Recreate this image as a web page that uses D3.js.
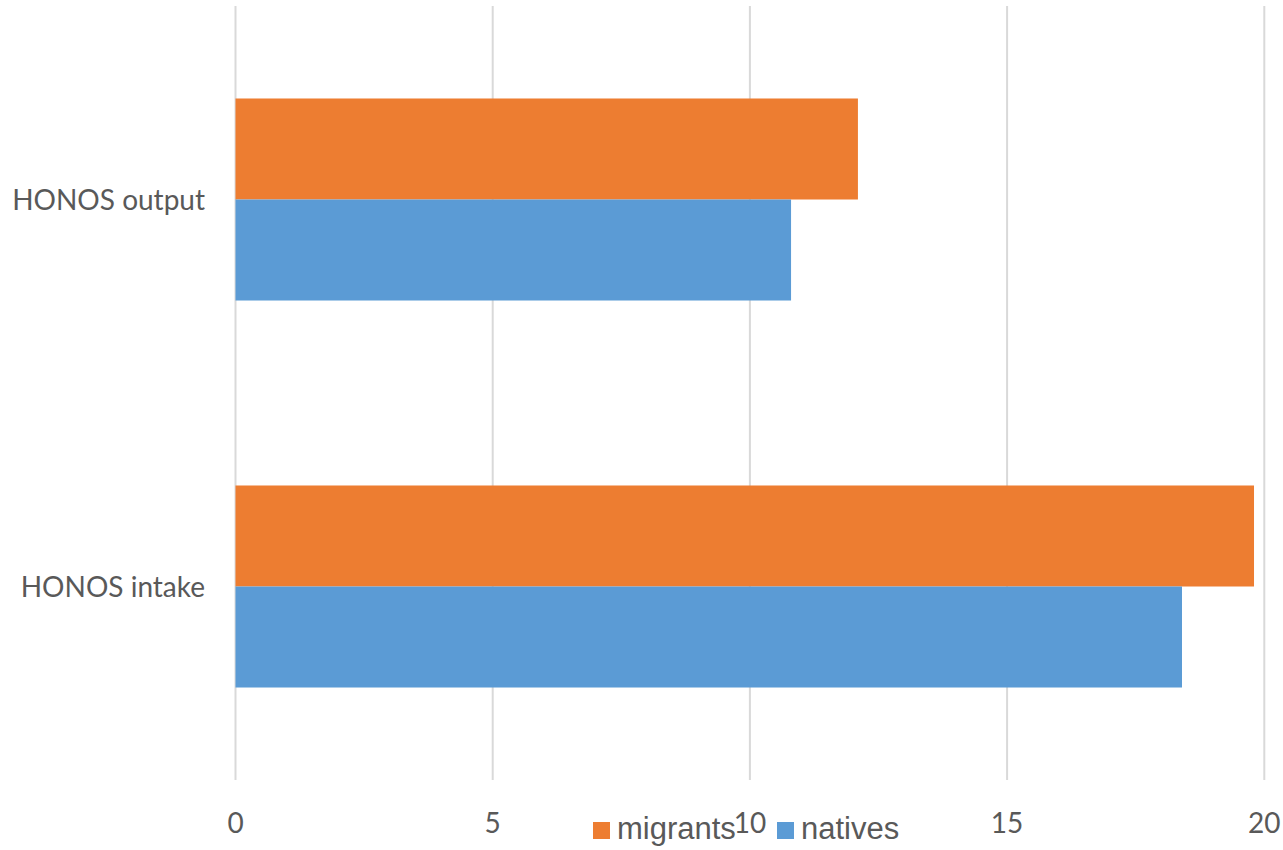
<!DOCTYPE html>
<html>
<head>
<meta charset="utf-8">
<script src="https://cdn.jsdelivr.net/npm/d3@7"></script>
<style>
  body { margin: 0; background: #fff; }
</style>
</head>
<body>
<div id="chart"></div>
<script>
// data
const categories = ["HONOS output", "HONOS intake"];
const seriesNames = ["migrants", "natives"];
const migrants = [12.1, 19.8];
const natives = [10.8, 18.4];
const xTicks = [0, 5, 10, 15, 20];

const width = 1283, height = 850;
const colors = { migrants: "#ED7D31", natives: "#5B9BD5" };

let svg = d3.select("#chart")
    .append("svg")
    .attr("width", width)
    .attr("height", height);

let x = d3.scaleLinear()
    .domain([0, 20])
    .range([235.5, 1264.3]);

let y = d3.scaleBand()
    .domain(categories)
    .range([6, 780])
    .paddingInner(0.478)
    .paddingOuter(0.239);

let ySub = d3.scaleBand()
    .domain(seriesNames)
    .range([0, y.bandwidth()]);

// gridlines
svg.append("g")
    .selectAll("line")
    .data(xTicks)
    .enter()
    .append("line")
    .attr("x1", d => x(d))
    .attr("x2", d => x(d))
    .attr("y1", 6)
    .attr("y2", 780)
    .attr("stroke", "#d9d9d9")
    .attr("stroke-width", 2);

// bars
let rows = categories.map((c, i) => ({ cat: c, migrants: migrants[i], natives: natives[i] }));

let groups = svg.append("g")
    .selectAll("g")
    .data(rows)
    .enter()
    .append("g")
    .attr("transform", d => `translate(0, ${y(d.cat)})`);

groups.selectAll("rect")
    .data(d => seriesNames.map(s => ({ key: s, value: d[s] })))
    .enter()
    .append("rect")
    .attr("x", x(0))
    .attr("y", d => ySub(d.key))
    .attr("width", d => x(d.value) - x(0))
    .attr("height", ySub.bandwidth())
    .attr("fill", d => colors[d.key]);

// category labels
svg.append("g")
    .selectAll("text")
    .data(categories)
    .enter()
    .append("text")
    .attr("x", 205)
    .attr("y", d => y(d) + y.bandwidth() / 2 + 10)
    .style("text-anchor", "end")
    .style("font-family", "Lato, 'Open Sans', sans-serif")
    .style("font-size", "28px")
    .style("fill", "#595959")
    .text(d => d);

// x tick labels
svg.append("g")
    .selectAll("text")
    .data(xTicks)
    .enter()
    .append("text")
    .attr("x", d => x(d))
    .attr("y", 833)
    .style("text-anchor", "middle")
    .style("font-family", "Lato, 'Open Sans', sans-serif")
    .style("font-size", "28px")
    .style("fill", "#595959")
    .text(d => d);

// legend
let legendPos = [593, 777];
let legend = svg.append("g")
    .selectAll("g")
    .data(seriesNames)
    .enter()
    .append("g")
    .attr("transform", (d, i) => `translate(${legendPos[i]}, 822)`);

legend.append("rect")
    .attr("width", 17)
    .attr("height", 17)
    .attr("fill", d => colors[d]);

legend.append("text")
    .attr("x", 24)
    .attr("y", 17)
    .style("font-family", "'Liberation Sans', Arial, sans-serif")
    .style("font-size", "31px")
    .style("fill", "#595959")
    .text(d => d);
</script>
</body>
</html>
